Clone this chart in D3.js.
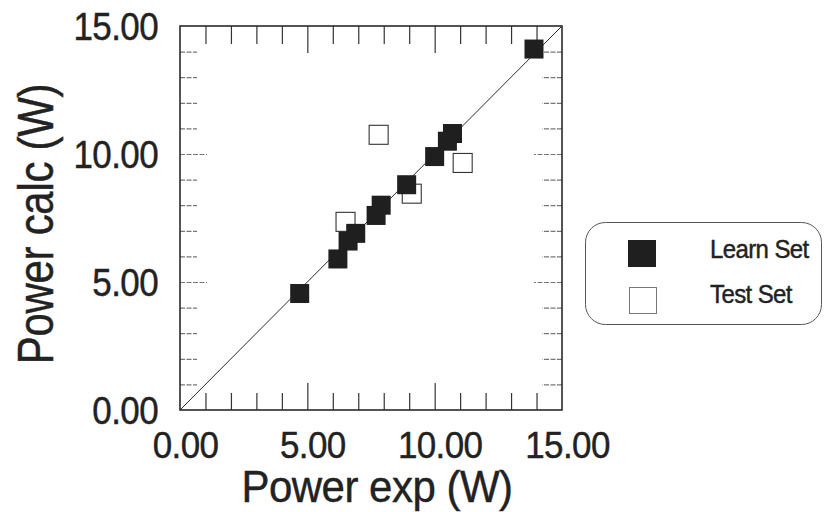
<!DOCTYPE html>
<html>
<head>
<meta charset="utf-8">
<script src="https://cdn.jsdelivr.net/npm/d3@7/dist/d3.min.js"></script>
<style>
  html, body { margin: 0; padding: 0; background: #fff; }
  svg { display: block; }
  text { font-family: "Liberation Sans", Arial, sans-serif; fill: #222; stroke: #222; stroke-width: 0.4px; }
</style>
</head>
<body>
<svg id="chart" width="824" height="512"></svg>
<script>
// Learn set: experimental vs calculated power (W)
const learnExp  = [13.9, 10.7, 10.5, 10.0, 8.9, 7.9, 7.7, 6.9, 6.6, 6.2, 4.7];
const learnCalc = [14.1, 10.8, 10.5, 9.9, 8.8, 8.0, 7.6, 6.9, 6.6, 5.9, 4.55];
// Test set
const testExp  = [7.8, 11.1, 9.1, 6.5];
const testCalc = [10.75, 9.65, 8.45, 7.35];

const tickLabels = [0, 5, 10, 15];
const minorTicks = d3.range(1, 15);
const majorTicks = [5, 10];
const legendLabels = ["Learn Set", "Test Set"];

const svg = d3.select("#chart");
const x = d3.scaleLinear().domain([0, 15]).range([180, 562]);
const y = d3.scaleLinear().domain([0, 15]).range([410, 26]);
const fmt = d3.format(".2f");

// tick marks on all four sides, pointing inward
function tickRow(axisFn, scale, vals, size, transform, color, dash) {
  const g = svg.append("g").attr("transform", transform)
    .call(axisFn(scale).tickValues(vals).tickSize(size).tickFormat(""));
  g.select(".domain").remove();
  g.selectAll(".tick line").attr("stroke", color).attr("stroke-width", 1.2)
    .attr("stroke-dasharray", dash);
}
const minorOnly = minorTicks.filter(d => !majorTicks.includes(d));
tickRow(d3.axisBottom, x, minorOnly, -17, `translate(0,${y(0)})`, "#333", null);
tickRow(d3.axisBottom, x, majorTicks, -27, `translate(0,${y(0)})`, "#333", null);
tickRow(d3.axisTop, x, minorOnly, -18, `translate(0,${y(15)})`, "#333", null);
tickRow(d3.axisTop, x, majorTicks, -27, `translate(0,${y(15)})`, "#333", null);
tickRow(d3.axisLeft, y, minorOnly, -17, `translate(${x(0)},0)`, "#777", "5,1.5");
tickRow(d3.axisLeft, y, majorTicks, -27, `translate(${x(0)},0)`, "#777", "5,1.5");
tickRow(d3.axisRight, y, minorOnly, -20, `translate(${x(15)},0)`, "#777", "5,1.5");
tickRow(d3.axisRight, y, majorTicks, -28, `translate(${x(15)},0)`, "#777", "5,1.5");

// frame
svg.append("rect")
  .attr("x", x(0)).attr("y", y(15))
  .attr("width", x(15) - x(0)).attr("height", y(0) - y(15))
  .attr("fill", "none").attr("stroke", "#2a2a2a").attr("stroke-width", 1.6);

// y = x reference line
svg.append("line")
  .attr("x1", x(0)).attr("y1", y(0)).attr("x2", x(15)).attr("y2", y(15))
  .attr("stroke", "#2a2a2a").attr("stroke-width", 1);

// tick labels
const xLab = svg.append("g").attr("transform", `translate(0,${y(0)})`)
  .call(d3.axisBottom(x).tickValues(tickLabels).tickFormat(fmt).tickSize(0).tickPadding(0));
xLab.select(".domain").remove();
xLab.selectAll("text")
  .attr("y", 0).attr("dy", null)
  .attr("transform", "translate(5,48) scale(1,1.08)")
  .style("font-size", "35px").style("letter-spacing", "-0.6px").attr("fill", "#222");

const yLab = svg.append("g").attr("transform", `translate(${x(0)},0)`)
  .call(d3.axisLeft(y).tickValues(tickLabels).tickFormat(fmt).tickSize(0).tickPadding(0));
yLab.select(".domain").remove();
yLab.selectAll("text")
  .attr("x", 0).attr("dy", null)
  .attr("transform", "translate(-22,13) scale(1,1.1)")
  .style("font-size", "35px").style("letter-spacing", "-0.6px").attr("fill", "#222");

// axis titles
svg.append("text")
  .attr("transform", "translate(377,502) scale(1,1.04)")
  .attr("text-anchor", "middle")
  .style("font-size", "42px").style("letter-spacing", "-0.5px")
  .text("Power exp (W)");

svg.append("text")
  .attr("transform", "translate(53,224) rotate(-90) scale(1,1.2)")
  .attr("text-anchor", "middle")
  .style("font-size", "42px").style("letter-spacing", "-0.3px")
  .text("Power calc (W)");

// markers
const S = 19;
svg.append("g").selectAll("rect")
  .data(testExp.map((d, i) => [d, testCalc[i]]))
  .join("rect")
  .attr("x", d => x(d[0]) - S / 2).attr("y", d => y(d[1]) - S / 2)
  .attr("width", S).attr("height", S)
  .attr("fill", "#fff").attr("stroke", "#333").attr("stroke-width", 1.1);

svg.append("g").selectAll("rect")
  .data(learnExp.map((d, i) => [d, learnCalc[i]]))
  .join("rect")
  .attr("x", d => x(d[0]) - S / 2).attr("y", d => y(d[1]) - S / 2)
  .attr("width", S).attr("height", S)
  .attr("fill", "#1f1f1f");

// legend
const lg = svg.append("g");
lg.append("rect")
  .attr("x", 585.5).attr("y", 222.5).attr("width", 236).attr("height", 102)
  .attr("rx", 20).attr("ry", 20)
  .attr("fill", "none").attr("stroke", "#555").attr("stroke-width", 1);
lg.append("rect").attr("x", 628).attr("y", 240).attr("width", 28).attr("height", 27)
  .attr("fill", "#1f1f1f");
lg.append("rect").attr("x", 629.5).attr("y", 287.5).attr("width", 27).attr("height", 26)
  .attr("fill", "#fff").attr("stroke", "#777").attr("stroke-width", 1);
lg.selectAll("text.lab").data(legendLabels).join("text")
  .attr("class", "lab")
  .attr("transform", (d, i) => `translate(710,${i ? 303 : 258}) scale(1,1.05)`)
  .style("font-size", "24px").style("letter-spacing", "-0.6px")
  .text(d => d);
</script>
</body>
</html>
